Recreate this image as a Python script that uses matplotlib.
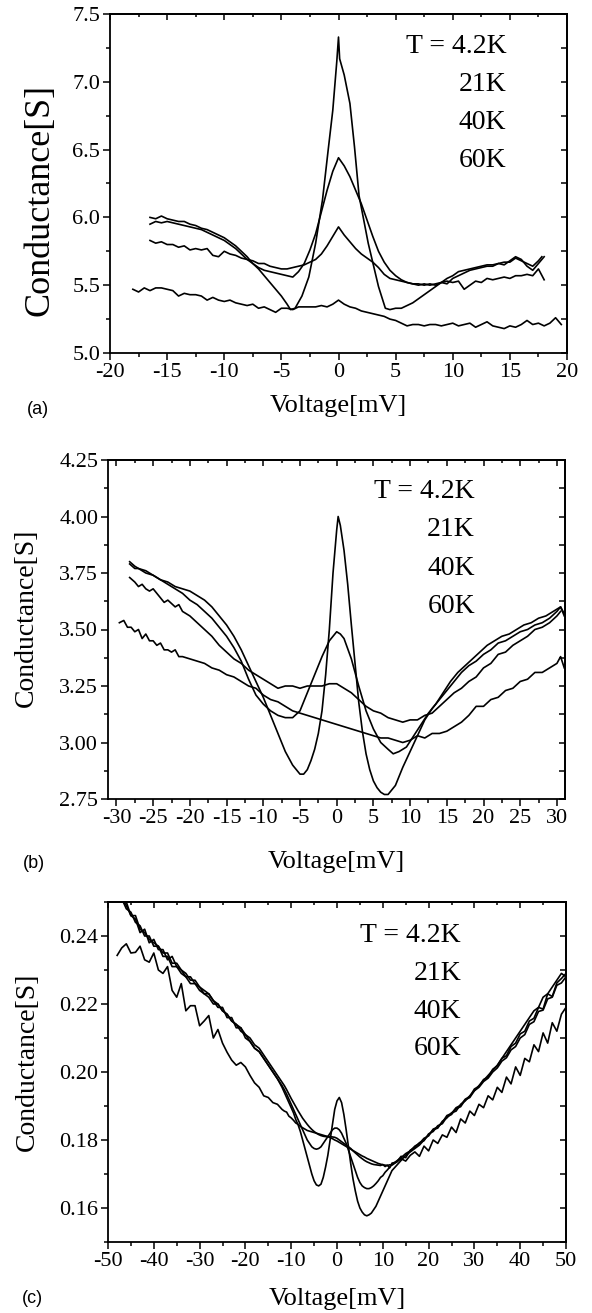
import numpy as np
import matplotlib
matplotlib.use('Agg')
import matplotlib.pyplot as plt
from matplotlib.ticker import MultipleLocator, FormatStrFormatter, NullFormatter

plt.rcParams['font.family'] = ['Liberation Serif', 'DejaVu Serif']
plt.rcParams['axes.unicode_minus'] = False
plt.rcParams['axes.linewidth'] = 1.3

temps = ['T = 4.2K', '21K', '40K', '60K']

# ---- panel (a) ----
a_v42 = [-16.5, -16, -15.5, -15, -14.5, -14, -13.5, -13, -12.5, -12, -11.5, -11, -10.5, -10, -9.5, -9,
         -8.5, -8, -7.5, -7, -6.5, -6, -5.5, -5, -4.5,
         -4.2, -3.8, -3.2, -2.6, -2.0, -1.4, -0.9, -0.5, -0.15, 0, 0.1, 0.5, 1.0, 1.4, 1.8, 2.6, 3.5, 4.1,
         4.5, 5, 5.5, 6, 6.5, 7, 7.5, 8, 8.5, 9, 9.5, 10, 10.5, 11, 11.5, 12, 12.5, 13, 13.5, 14, 14.5,
         15, 15.5, 16, 16.5, 17, 17.5, 17.8]
a_g42 = [6.00, 5.99, 6.01, 5.99, 5.98, 5.97, 5.97, 5.95, 5.94, 5.92, 5.91, 5.89, 5.87, 5.85, 5.82, 5.79,
         5.75, 5.71, 5.66, 5.62, 5.57, 5.52, 5.47, 5.42, 5.36,
         5.32, 5.33, 5.42, 5.56, 5.81, 6.13, 6.50, 6.79, 7.15, 7.33, 7.17, 7.05, 6.84, 6.52, 6.16, 5.81, 5.49, 5.33,
         5.32, 5.33, 5.33, 5.35, 5.37, 5.40, 5.43, 5.46, 5.49, 5.52, 5.55, 5.57, 5.60, 5.61, 5.62, 5.63, 5.64,
         5.65, 5.65, 5.66, 5.67, 5.67, 5.70, 5.68, 5.66, 5.64, 5.68, 5.71]

a_v = np.arange(-16.5, 18.01, 0.5)
a_g21 = [5.95, 5.97, 5.96, 5.97, 5.96, 5.95, 5.94, 5.93, 5.92, 5.91, 5.89, 5.87, 5.85, 5.83, 5.80, 5.77,
         5.73, 5.69, 5.66, 5.63, 5.61, 5.60, 5.59, 5.58, 5.57, 5.56, 5.60, 5.66, 5.76, 5.88, 6.04, 6.20,
         6.34, 6.44, 6.38, 6.30, 6.20, 6.10, 5.98, 5.86, 5.75, 5.67, 5.61, 5.57, 5.54, 5.52, 5.51, 5.50,
         5.51, 5.50, 5.51, 5.52, 5.51, 5.55, 5.57, 5.59, 5.61, 5.62, 5.63, 5.64, 5.64, 5.66, 5.65, 5.68,
         5.71, 5.69, 5.64, 5.61, 5.66, 5.71]
a_g40 = [5.83, 5.81, 5.82, 5.80, 5.80, 5.78, 5.79, 5.76, 5.77, 5.76, 5.77, 5.72, 5.71, 5.75, 5.73, 5.72,
         5.70, 5.69, 5.68, 5.66, 5.66, 5.64, 5.63, 5.62, 5.62, 5.63, 5.64, 5.65, 5.67, 5.69, 5.73, 5.79,
         5.86, 5.93, 5.87, 5.82, 5.77, 5.73, 5.70, 5.67, 5.63, 5.58, 5.55, 5.54, 5.53, 5.52, 5.51, 5.51,
         5.50, 5.51, 5.50, 5.52, 5.53, 5.52, 5.53, 5.47, 5.50, 5.53, 5.52, 5.55, 5.54, 5.55, 5.56, 5.55,
         5.57, 5.57, 5.58, 5.57, 5.62, 5.54]

a_v60 = np.arange(-18, 19.51, 0.5)
a_g60 = [5.47, 5.45, 5.48, 5.46, 5.48, 5.48, 5.47, 5.46, 5.42, 5.44, 5.43, 5.43, 5.42, 5.39, 5.41, 5.39,
         5.38, 5.39, 5.37, 5.36, 5.35, 5.36, 5.33, 5.34, 5.32, 5.30, 5.33, 5.33, 5.32, 5.34, 5.34, 5.34,
         5.34, 5.35, 5.34, 5.36, 5.39, 5.36, 5.34, 5.33, 5.31, 5.30, 5.29, 5.28, 5.27, 5.25, 5.24, 5.22,
         5.20, 5.21, 5.21, 5.20, 5.21, 5.21, 5.20, 5.21, 5.22, 5.20, 5.21, 5.22, 5.19, 5.21, 5.23, 5.20,
         5.19, 5.18, 5.20, 5.19, 5.21, 5.24, 5.21, 5.22, 5.20, 5.22, 5.26, 5.21]

# ---- panel (b) ----
b_v42 = np.r_[-28.2, -27.5, np.arange(-27, -5.5, 1), np.arange(-5.5, 0.1, 0.5), 0.2,
              np.arange(0.5, 9.1, 0.5), np.arange(10, 30.1, 1), 30.5, 31]
b_g42 = [3.80, 3.78, 3.77, 3.76, 3.74, 3.72, 3.71, 3.69, 3.68, 3.67, 3.65, 3.63, 3.60, 3.56, 3.52, 3.47,
         3.41, 3.34, 3.27, 3.20, 3.12, 3.04, 2.96, 2.90,
         2.88, 2.86, 2.86, 2.88, 2.92, 2.97, 3.04, 3.14, 3.30, 3.50, 3.75, 3.94, 4.00,
         3.96, 3.85, 3.70, 3.52, 3.35, 3.18, 3.05, 2.95, 2.88, 2.83, 2.80, 2.78, 2.77, 2.77, 2.79, 2.81, 2.85, 2.89,
         2.96, 3.03, 3.10, 3.15, 3.19, 3.23, 3.27, 3.31, 3.34, 3.36, 3.39, 3.41, 3.44, 3.45, 3.47, 3.49,
         3.50, 3.52, 3.53, 3.55, 3.58, 3.60, 3.57]

b_v21 = np.r_[-28.2, -27.5, np.arange(-27, 0.1, 1), 0.5, np.arange(1, 7.1, 1), 7.7, np.arange(8.5, 31, 1), 31]
b_g21 = [3.79, 3.77, 3.77, 3.75, 3.74, 3.72, 3.70, 3.68, 3.66, 3.63, 3.61, 3.58, 3.55, 3.51, 3.47, 3.42,
         3.36, 3.28, 3.21, 3.17, 3.14, 3.12, 3.11, 3.11, 3.14, 3.22, 3.30, 3.38, 3.45, 3.49,
         3.48, 3.46, 3.37, 3.25, 3.14, 3.06, 3.00, 2.97, 2.95,
         2.96, 2.98, 3.03, 3.08, 3.13, 3.17, 3.22, 3.27, 3.31, 3.34, 3.37, 3.40, 3.43, 3.45, 3.47, 3.48,
         3.50, 3.52, 3.53, 3.55, 3.56, 3.58, 3.60, 3.56]

b_v40 = np.r_[-28.2, -27.5, -27, -26.5, -26, -25.5, -25, -24, -23.5, -23, -22, -21.5, -21,
              np.arange(-20, 0, 1), 0, 0.5, np.arange(1, 30.1, 1), 30.5]
b_g40 = [3.73, 3.71, 3.69, 3.70, 3.68, 3.67, 3.68, 3.64, 3.62, 3.63, 3.60, 3.61, 3.58,
         3.56, 3.53, 3.50, 3.47, 3.43, 3.40, 3.37, 3.35, 3.32, 3.30, 3.28, 3.26, 3.24, 3.25, 3.25, 3.24,
         3.25, 3.25, 3.25, 3.26, 3.26, 3.25,
         3.24, 3.22, 3.19, 3.16, 3.14, 3.13, 3.11, 3.10, 3.09, 3.10, 3.10, 3.12, 3.13, 3.16, 3.19, 3.22,
         3.24, 3.27, 3.29, 3.33, 3.35, 3.39, 3.40, 3.43, 3.45, 3.47, 3.50, 3.51, 3.53, 3.56, 3.58]

b_v60 = np.r_[-29.6, np.arange(-29, -21.4, 0.5), np.arange(-21, 30.1, 1), 30.5, 31]
b_g60 = [3.53, 3.54, 3.51, 3.51, 3.49, 3.50, 3.46, 3.48, 3.45, 3.45, 3.43, 3.44, 3.41, 3.41, 3.40, 3.41, 3.38,
         3.38, 3.37, 3.36, 3.35, 3.33, 3.32, 3.30, 3.29, 3.27, 3.25, 3.24, 3.21, 3.19, 3.18, 3.16, 3.14,
         3.13, 3.12, 3.11, 3.10, 3.09, 3.08, 3.07, 3.06, 3.05, 3.04, 3.03, 3.02, 3.02, 3.01, 3.00, 3.01,
         3.03, 3.02, 3.04, 3.04, 3.05, 3.07, 3.09, 3.12, 3.16, 3.16, 3.19, 3.20, 3.23, 3.24, 3.27, 3.28,
         3.31, 3.31, 3.33, 3.35, 3.38, 3.33]

# ---- panel (c) ----
c_v = np.r_[np.arange(-48, -12), np.arange(-12, 12.1, 0.5), np.arange(13, 51)]
c_g42 = [0.254, 0.251, 0.249, 0.246, 0.245, 0.241, 0.242, 0.238, 0.239, 0.236,
         0.236, 0.233, 0.234, 0.231, 0.230, 0.229, 0.227, 0.227, 0.225, 0.224,
         0.223, 0.221, 0.220, 0.218, 0.217, 0.215, 0.214, 0.212, 0.211, 0.209,
         0.207, 0.206, 0.204, 0.202, 0.200, 0.198,
         0.1955, 0.194, 0.1925, 0.191, 0.1895, 0.188, 0.186, 0.1845, 0.1825, 0.180,
         0.1775, 0.175, 0.1725, 0.170, 0.168, 0.1668, 0.1665, 0.167, 0.169, 0.172,
         0.1755, 0.180, 0.1845, 0.189, 0.1915, 0.1925, 0.191, 0.1875, 0.183, 0.178,
         0.173, 0.1685, 0.165, 0.162, 0.160, 0.1588, 0.158, 0.1577, 0.158, 0.1585,
         0.1595, 0.1605, 0.162, 0.1635, 0.165, 0.1665, 0.168, 0.1695, 0.171,
         0.1725, 0.1740, 0.1755, 0.1765, 0.1775, 0.1785, 0.1800, 0.1815, 0.1830, 0.1835,
         0.1855, 0.1865, 0.1880, 0.1885, 0.1905, 0.1915, 0.1930, 0.1945, 0.1960, 0.1975,
         0.1990, 0.2005, 0.2020, 0.2040, 0.2060, 0.2080, 0.2100, 0.2120, 0.2140, 0.2160,
         0.2180, 0.2190, 0.2220, 0.2230, 0.2250, 0.2270, 0.2290, 0.2280]
c_g21 = [0.253, 0.250, 0.250, 0.246, 0.246, 0.242, 0.241, 0.239, 0.238, 0.237,
         0.235, 0.235, 0.232, 0.232, 0.230, 0.228, 0.228, 0.226, 0.225, 0.223,
         0.223, 0.221, 0.219, 0.219, 0.216, 0.216, 0.213, 0.213, 0.210, 0.209,
         0.207, 0.206, 0.204, 0.202, 0.200, 0.198,
         0.196, 0.1948, 0.1935, 0.192, 0.1905, 0.189, 0.1875, 0.186, 0.1845, 0.183,
         0.1815, 0.180, 0.179, 0.178, 0.1775, 0.1773, 0.1775, 0.178, 0.179, 0.180,
         0.181, 0.182, 0.183, 0.1835, 0.1835, 0.183, 0.182, 0.1805, 0.179, 0.177,
         0.175, 0.173, 0.171, 0.169, 0.1675, 0.1665, 0.166, 0.1657, 0.1657, 0.166,
         0.1665, 0.1672, 0.168, 0.169, 0.1695, 0.1705, 0.1712, 0.172, 0.1728,
         0.1738, 0.1748, 0.1760, 0.1768, 0.1782, 0.1790, 0.1805, 0.1812, 0.1832, 0.1838,
         0.1852, 0.1872, 0.1878, 0.1895, 0.1902, 0.1920, 0.1928, 0.1950, 0.1958, 0.1978,
         0.1985, 0.2008, 0.2018, 0.2040, 0.2048, 0.2075, 0.2085, 0.2112, 0.2120, 0.2150,
         0.2158, 0.2190, 0.2185, 0.2230, 0.2222, 0.2262, 0.2275, 0.2290]
c_g40 = [0.252, 0.251, 0.248, 0.247, 0.244, 0.243, 0.240, 0.240, 0.237, 0.237,
         0.234, 0.234, 0.231, 0.231, 0.229, 0.228, 0.226, 0.226, 0.224, 0.223,
         0.222, 0.220, 0.220, 0.218, 0.217, 0.215, 0.214, 0.213, 0.211, 0.210,
         0.208, 0.207, 0.205, 0.203, 0.201, 0.199,
         0.197, 0.196, 0.1948, 0.1935, 0.1922, 0.191, 0.1898, 0.1886, 0.1875, 0.1864,
         0.1855, 0.1846, 0.1838, 0.1831, 0.1825, 0.182, 0.1816, 0.1813, 0.1811, 0.181,
         0.181, 0.181, 0.1809, 0.1808, 0.1805, 0.180, 0.1795, 0.179, 0.1785, 0.178,
         0.1775, 0.1768, 0.1762, 0.1756, 0.175, 0.1745, 0.174, 0.1736, 0.1733, 0.173,
         0.1728, 0.1727, 0.1726, 0.1725, 0.1728, 0.1722, 0.1726, 0.1718, 0.1732,
         0.1735, 0.1752, 0.1748, 0.1770, 0.1778, 0.1792, 0.1798, 0.1818, 0.1825, 0.1842,
         0.1848, 0.1868, 0.1875, 0.1892, 0.1898, 0.1918, 0.1925, 0.1945, 0.1955, 0.1972,
         0.1982, 0.2000, 0.2012, 0.2032, 0.2042, 0.2065, 0.2075, 0.2100, 0.2110, 0.2140,
         0.2148, 0.2178, 0.2182, 0.2215, 0.2220, 0.2255, 0.2262, 0.2280]
c_g60 = [0.2343, 0.2365, 0.2377, 0.2350, 0.2352, 0.2370, 0.2330, 0.2323, 0.2350, 0.2300,
         0.2290, 0.2310, 0.2240, 0.2220, 0.2260, 0.2180, 0.2195, 0.2195, 0.2136, 0.2150,
         0.2166, 0.2100, 0.2125, 0.2085, 0.2058, 0.2035, 0.2020, 0.2028, 0.2015, 0.1990,
         0.1968, 0.1955, 0.1930, 0.1925, 0.1910, 0.1905,
         0.1890, 0.1885, 0.1882, 0.1870, 0.1865, 0.1858, 0.1850, 0.1846, 0.1840, 0.1836,
         0.1832, 0.1828, 0.1826, 0.1824, 0.1822, 0.1820, 0.1818, 0.1816, 0.1814, 0.1812,
         0.1810, 0.1807, 0.1804, 0.1800, 0.1797, 0.1793, 0.1789, 0.1785, 0.1781, 0.1777,
         0.1773, 0.1769, 0.1765, 0.1761, 0.1757, 0.1753, 0.1750, 0.1746, 0.1743, 0.1740,
         0.1737, 0.1734, 0.1731, 0.1729, 0.1727, 0.1726, 0.1725, 0.1727, 0.1726,
         0.1735, 0.1745, 0.1738, 0.1755, 0.1765, 0.1752, 0.1782, 0.1768, 0.1800, 0.1790,
         0.1815, 0.1808, 0.1838, 0.1822, 0.1862, 0.1850, 0.1885, 0.1872, 0.1905, 0.1895,
         0.1930, 0.1918, 0.1955, 0.1940, 0.1985, 0.1965, 0.2015, 0.1990, 0.2040, 0.2030,
         0.2080, 0.2060, 0.2115, 0.2085, 0.2145, 0.2120, 0.2170, 0.2190]


def style_axes(ax, xlim, ylim, xmaj, xmin, ymaj, ymin, yfmt):
    ax.set_xlim(*xlim)
    ax.set_ylim(*ylim)
    ax.xaxis.set_major_locator(MultipleLocator(xmaj))
    ax.xaxis.set_minor_locator(MultipleLocator(xmin))
    ax.yaxis.set_major_locator(MultipleLocator(ymaj))
    ax.yaxis.set_minor_locator(MultipleLocator(ymin))
    ax.yaxis.set_major_formatter(FormatStrFormatter(yfmt))
    ax.tick_params(which='both', direction='out', width=1.1, labelsize=16, pad=2)
    ax.tick_params(which='major', length=5)
    ax.tick_params(which='minor', length=3)
    top = ax.secondary_xaxis('top')
    top.xaxis.set_major_locator(MultipleLocator(xmaj))
    top.xaxis.set_minor_locator(MultipleLocator(xmin))
    top.xaxis.set_major_formatter(NullFormatter())
    top.tick_params(which='both', direction='in', width=1.1)
    top.tick_params(which='major', length=4)
    top.tick_params(which='minor', length=2.5)
    right = ax.secondary_yaxis('right')
    right.yaxis.set_major_locator(MultipleLocator(ymaj))
    right.yaxis.set_minor_locator(MultipleLocator(ymin))
    right.yaxis.set_major_formatter(NullFormatter())
    right.tick_params(which='both', direction='in', width=1.1)
    right.tick_params(which='major', length=4)
    right.tick_params(which='minor', length=4)


def add_temps(ax, xr, ytop, step):
    for i, t in enumerate(temps):
        ax.text(xr, ytop - i * step, t, transform=ax.transAxes, ha='right', va='baseline', fontsize=20)


fig = plt.figure(figsize=(5.92, 13.13), dpi=100)

# (a)
ax1 = fig.add_axes([110 / 592, 1 - 353 / 1313, 457 / 592, 339 / 1313])
for v, g in [(a_v42, a_g42), (a_v, a_g21), (a_v, a_g40), (a_v60, a_g60)]:
    ax1.plot(v, g, color='black', lw=1.2)
style_axes(ax1, (-20, 20), (5.0, 7.5), 5, 2.5, 0.5, 0.25, '%.1f')
add_temps(ax1, 0.867, 0.885, 0.112)
ax1.text(-0.153, 0.45, 'Conductance[S]', transform=ax1.transAxes, rotation=90,
         ha='center', va='center', fontsize=26)
ax1.text(0.5, -0.174, 'Voltage[mV]', transform=ax1.transAxes, ha='center', va='baseline', fontsize=19)
fig.text(27 / 592, 1 - 414 / 1313, '(a)', family=['Liberation Sans', 'DejaVu Sans'], fontsize=13,
         ha='left', va='baseline')

# (b)
ax2 = fig.add_axes([108 / 592, 1 - 799 / 1313, 457 / 592, 339 / 1313])
for v, g in [(b_v42, b_g42), (b_v21, b_g21), (b_v40, b_g40), (b_v60, b_g60)]:
    ax2.plot(v, g, color='black', lw=1.2)
style_axes(ax2, (-31.15, 31.1), (2.75, 4.25), 5, 2.5, 0.25, 0.125, '%.2f')
add_temps(ax2, 0.803, 0.888, 0.113)
ax2.text(-0.179, 0.534, 'Conductance[S]', transform=ax2.transAxes, rotation=90,
         ha='center', va='center', fontsize=20)
ax2.text(0.5, -0.203, 'Voltage[mV]', transform=ax2.transAxes, ha='center', va='baseline', fontsize=19)
fig.text(23 / 592, 1 - 868 / 1313, '(b)', family=['Liberation Sans', 'DejaVu Sans'], fontsize=13,
         ha='left', va='baseline')

# (c)
ax3 = fig.add_axes([108 / 592, 1 - 1242 / 1313, 458 / 592, 340 / 1313])
for g in [c_g42, c_g21, c_g40, c_g60]:
    ax3.plot(c_v, g, color='black', lw=1.2)
style_axes(ax3, (-50, 50), (0.15, 0.25), 10, 5, 0.02, 0.01, '%.2f')
add_temps(ax3, 0.771, 0.882, 0.111)
ax3.text(-0.177, 0.529, 'Conductance[S]', transform=ax3.transAxes, rotation=90,
         ha='center', va='center', fontsize=20)
ax3.text(0.5, -0.185, 'Voltage[mV]', transform=ax3.transAxes, ha='center', va='baseline', fontsize=19)
fig.text(22 / 592, 1 - 1303 / 1313, '(c)', family=['Liberation Sans', 'DejaVu Sans'], fontsize=13,
         ha='left', va='baseline')

fig.savefig('out.png', dpi=100)
